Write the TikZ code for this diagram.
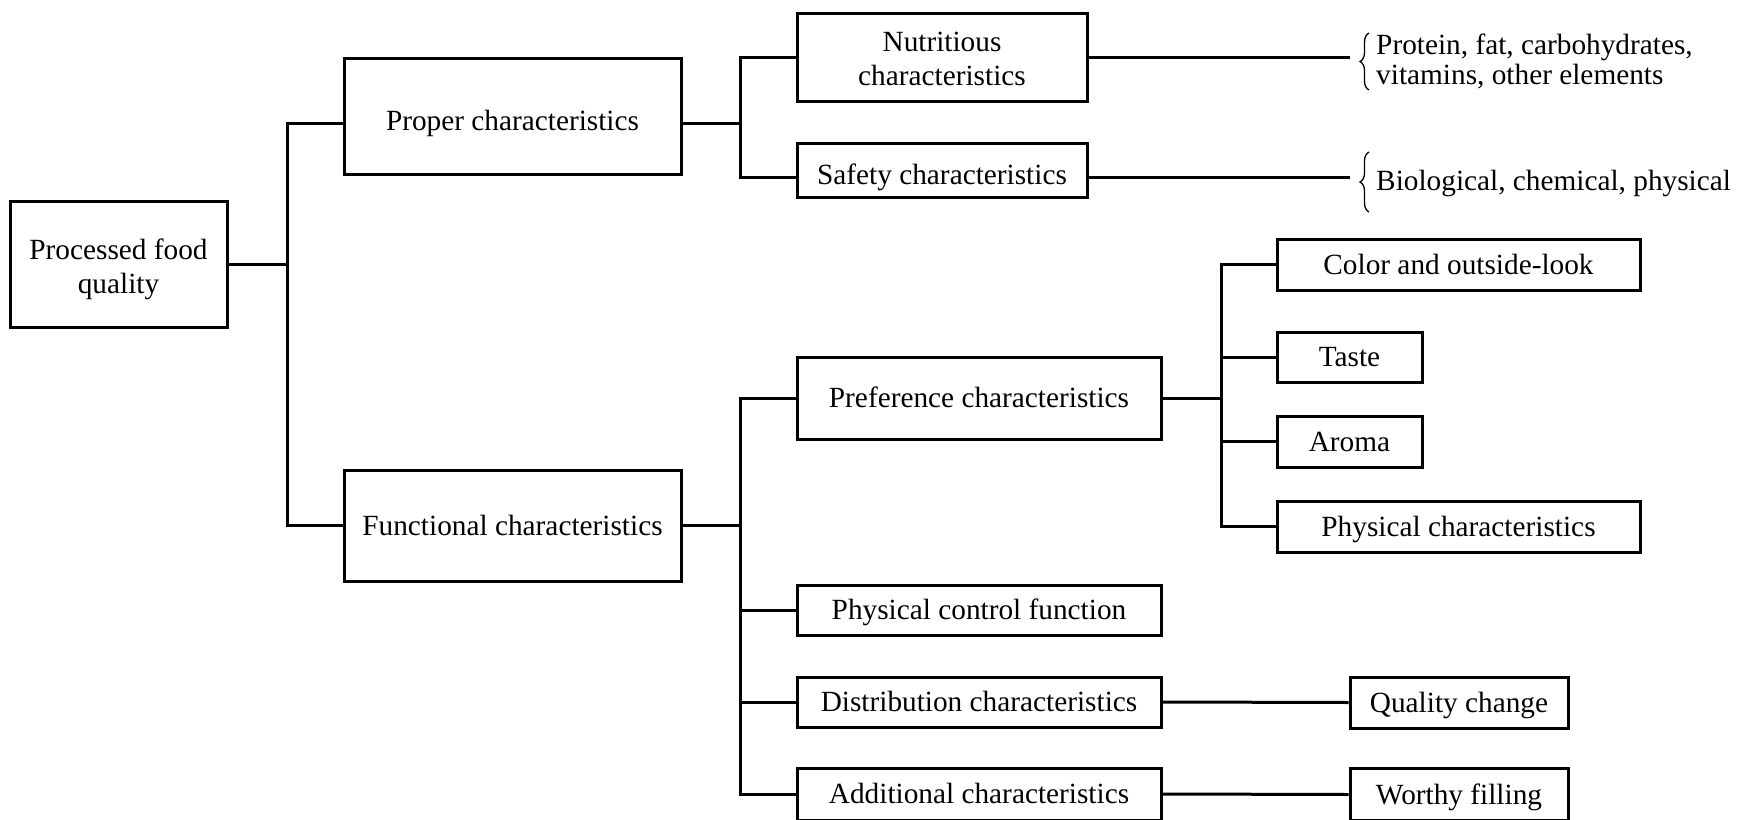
\documentclass[tikz,border=0pt]{standalone}
\usepackage{fontspec}
\setmainfont{Liberation Serif}
\usetikzlibrary{decorations.pathreplacing}
\begin{document}
\begin{tikzpicture}[x=1pt,y=-1pt,
  txt/.style={font=\fontsize{29.3}{34}\selectfont},
  frame/.style={draw, line width=3pt, inner sep=0pt, txt},
  box/.style={frame, text height=26pt, text depth=6.3pt},
  lowbox/.style={frame, text height=36pt, text depth=6.3pt},
  conn/.style={line width=3pt},
  lbl/.style={inner sep=0pt, txt},
  curly/.style={decorate, decoration={brace, amplitude=9pt}, line width=1.3pt}]
\useasboundingbox (0,0) rectangle (1758,819);
% level 0
\node[frame, minimum width=217pt, minimum height=126pt,
  label={[txt, align=center, inner sep=0pt, yshift=-5.5pt]center:{Processed food\\quality}}] (pfq) at (118.5,264) {};
% level 1
\node[lowbox, minimum width=337pt, minimum height=116pt] (proper) at (512.5,116) {Proper characteristics};
\node[box, minimum width=337pt, minimum height=111pt] (func) at (512.5,525.5) {Functional characteristics};
% level 2
\node[frame, minimum width=290pt, minimum height=88pt,
  label={[txt, align=center, inner sep=0pt, yshift=-2pt]center:{Nutritious\\characteristics}}] (nutr) at (942,57) {};
\node[lowbox, minimum width=290pt, minimum height=54pt] (safety) at (942,170) {Safety characteristics};
\node[box, minimum width=364pt, minimum height=82pt] (pref) at (979,398) {Preference characteristics};
\node[box, minimum width=364pt, minimum height=50pt] (pcf) at (979,610) {Physical control function};
\node[box, minimum width=364pt, minimum height=50pt] (dist) at (979,702) {Distribution characteristics};
\node[box, minimum width=364pt, minimum height=52pt] (add) at (979,794) {Additional characteristics};
% level 3
\node[box, minimum width=363pt, minimum height=51pt] (color) at (1458.5,264.5) {Color and outside-look};
\node[box, minimum width=145pt, minimum height=50pt] (taste) at (1349.5,357) {Taste};
\node[box, minimum width=145pt, minimum height=51pt] (aroma) at (1349.5,441.5) {Aroma};
\node[box, minimum width=363pt, minimum height=51pt] (phys) at (1458.5,526.5) {Physical characteristics};
\node[box, minimum width=218pt, minimum height=51pt] (qc) at (1459,702.5) {Quality change};
\node[box, minimum width=218pt, minimum height=52pt] (wf) at (1459,794.5) {Worthy filling};
% braces and texts
\node[lbl, anchor=base west] (p1) at (1376,54) {Protein, fat, carbohydrates,};
\node[lbl, anchor=base west] (p2) at (1376,84) {vitamins, other elements};
\node[lbl, anchor=base west] (bio) at (1376,190) {Biological, chemical, physical};
\coordinate (b1bot) at (1369,90);
\coordinate (b1top) at (1369,33);
\coordinate (b2bot) at (1369,212);
\coordinate (b2top) at (1369,152);
\draw[curly] (b1bot) -- (b1top);
\draw[curly] (b2bot) -- (b2top);
% trunk coordinates
\coordinate (j1) at (287,0);
\coordinate (j2) at (740,0);
\coordinate (j4) at (1221,0);
\coordinate (nb) at (1350,57);
\coordinate (sb) at (1350,177);
\coordinate (pw) at ([yshift=-7pt]proper.west);
\coordinate (pe) at ([yshift=-7pt]proper.east);
\coordinate (sw) at ([yshift=-7pt]safety.west);
\coordinate (se) at ([yshift=-7pt]safety.east);
% connectors
\draw[conn] (pfq.east) -- (pfq.east -| j1);
\draw[conn] (pw) -| (j1 |- func.west) -- (func.west);
\draw[conn] (pe) -- (pe -| j2);
\draw[conn] (nutr.west) -| (j2 |- sw) -- (sw);
\draw[conn] (nutr.east) -- (nb);
\draw[conn] (se) -- (sb);
\draw[conn] (func.east) -- (func.east -| j2);
\draw[conn] (pref.west) -| (j2 |- add.west) -- (add.west);
\draw[conn] (pcf.west) -- (pcf.west -| j2);
\draw[conn] (dist.west) -- (dist.west -| j2);
\draw[conn] (pref.east) -- (pref.east -| j4);
\draw[conn] (color.west) -| (j4 |- phys.west) -- (phys.west);
\draw[conn] (taste.west) -- (taste.west -| j4);
\draw[conn] (aroma.west) -- (aroma.west -| j4);
\draw[conn] (dist.east) -- (qc.west);
\draw[conn] (add.east) -- (wf.west);
\end{tikzpicture}
\end{document}
